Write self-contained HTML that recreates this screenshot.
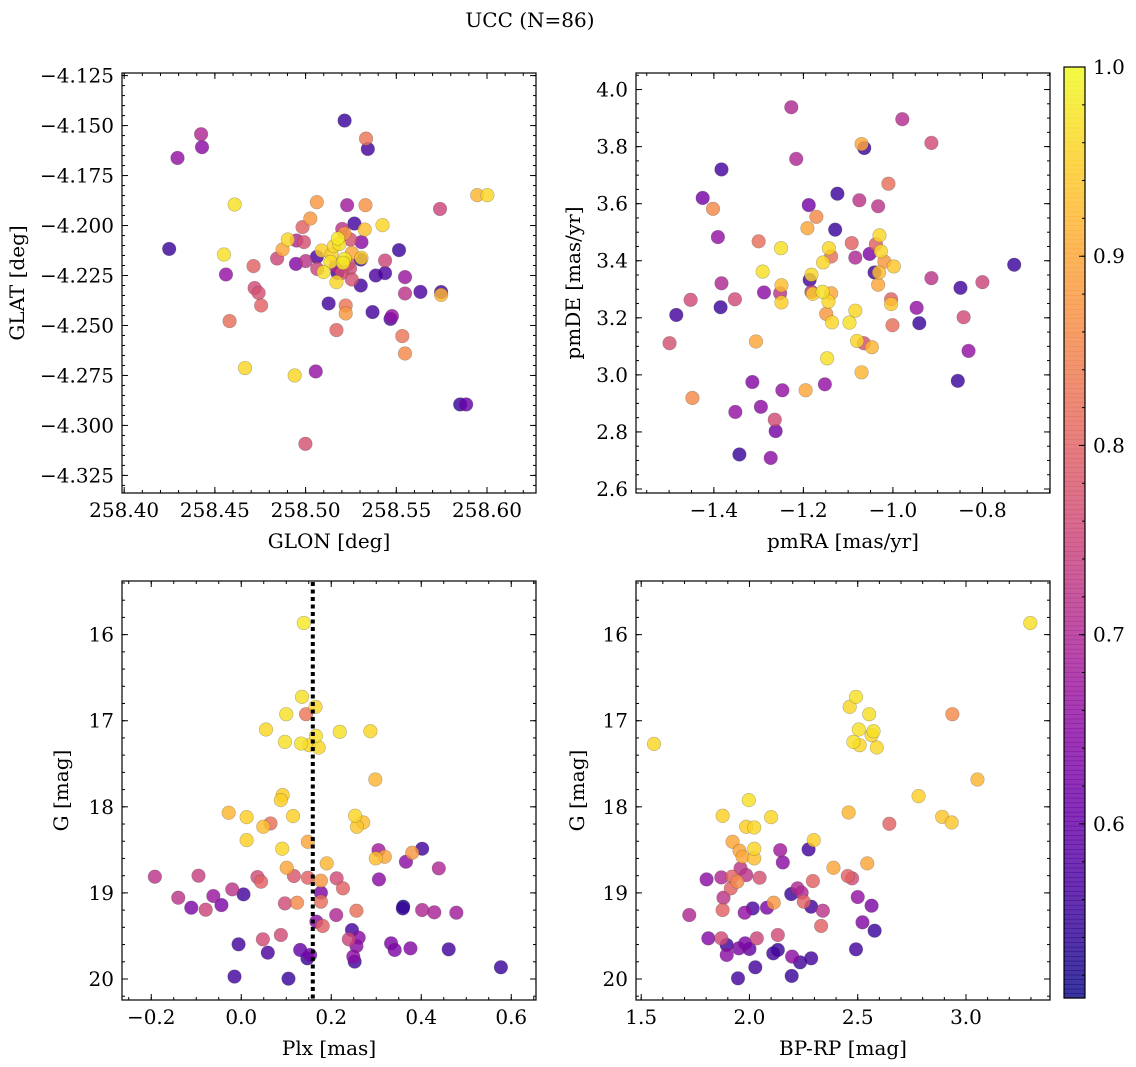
<!DOCTYPE html>
<html><head><meta charset="utf-8"><title>UCC (N=86)</title>
<style>
html,body{margin:0;padding:0;background:#fff;}
svg{display:block;font-family:"DejaVu Serif","Liberation Serif",serif;}
</style></head>
<body>
<svg id="fig" width="1136" height="1067" viewBox="0 0 1136 1067" xmlns="http://www.w3.org/2000/svg">
<text x="530" y="27" font-size="20" text-anchor="middle">UCC (N=86)</text>
</svg>
<script>
// ---- Panel 1: GLON / GLAT ----
const glon = [258.5215,258.5333,258.5343,258.4424,258.4429,258.4294,258.4609,258.5062,258.5229,258.5330,258.5741,258.5946,258.6002,258.5026,258.4983,258.5269,258.5424,258.5326,258.5202,258.5214,258.5247,258.5308,258.5178,258.4950,258.4991,258.4902,258.4873,258.4248,258.4550,258.4843,258.4947,258.5001,258.5062,258.5089,258.5143,258.5137,258.5064,258.5099,258.5176,258.5170,258.5215,258.5255,258.5245,258.5255,258.5304,258.5308,258.4713,258.4561,258.4719,258.4741,258.4755,258.4581,258.5127,258.5221,258.5221,258.5304,258.5387,258.5438,258.5438,258.5515,258.5548,258.5548,258.5633,258.5747,258.5747,258.5369,258.5468,258.5476,258.5170,258.5533,258.5548,258.4666,258.4940,258.5056,258.5852,258.5885,258.4999,258.5186,258.5156,258.5206,258.5233,258.5166,258.5200];
const glat = [-4.1475,-4.1565,-4.1617,-4.1543,-4.1608,-4.1662,-4.1895,-4.1883,-4.1898,-4.1898,-4.1917,-4.1848,-4.1848,-4.1965,-4.2008,-4.1990,-4.1998,-4.2020,-4.2017,-4.2040,-4.2070,-4.2083,-4.2065,-4.2075,-4.2083,-4.2070,-4.2120,-4.2117,-4.2145,-4.2165,-4.2192,-4.2178,-4.2157,-4.2125,-4.2145,-4.2182,-4.2217,-4.2233,-4.2237,-4.2283,-4.2167,-4.2137,-4.2215,-4.2270,-4.2170,-4.2162,-4.2203,-4.2245,-4.2313,-4.2337,-4.2400,-4.2478,-4.2390,-4.2400,-4.2440,-4.2300,-4.2250,-4.2238,-4.2175,-4.2123,-4.2258,-4.2340,-4.2332,-4.2333,-4.2347,-4.2433,-4.2467,-4.2453,-4.2523,-4.2553,-4.2640,-4.2713,-4.2750,-4.2730,-4.2895,-4.2895,-4.3092,-4.2092,-4.2103,-4.2187,-4.2190,-4.2203,-4.2237];
const prob1 = [0.55,0.83,0.56,0.70,0.65,0.66,0.97,0.88,0.68,0.87,0.75,0.92,0.96,0.88,0.80,0.56,0.96,0.93,0.72,0.88,0.77,0.65,0.98,0.70,0.77,0.96,0.90,0.55,0.97,0.75,0.64,0.72,0.57,0.95,0.95,0.97,0.75,0.97,0.56,0.96,0.98,0.90,0.76,0.77,0.55,0.95,0.80,0.66,0.76,0.77,0.80,0.82,0.56,0.83,0.88,0.56,0.57,0.57,0.75,0.55,0.67,0.72,0.57,0.56,0.92,0.56,0.57,0.66,0.80,0.83,0.86,0.96,0.96,0.66,0.55,0.60,0.77,0.97,0.96,0.98,0.77,0.70,0.76];
// ---- Panel 2: pmRA / pmDE ----
const pmra = [-1.227,-0.979,-0.914,-1.070,-1.064,-1.216,-1.383,-1.010,-1.124,-1.425,-1.402,-1.075,-1.033,-1.188,-1.171,-1.191,-1.129,-1.391,-1.300,-1.030,-1.250,-1.143,-1.092,-1.038,-1.027,-1.138,-1.084,-1.052,-1.156,-1.291,-1.019,-0.998,-1.041,-1.031,-1.033,-0.729,-1.182,-1.186,-1.383,-0.914,-0.800,-0.849,-1.249,-1.288,-1.252,-1.182,-1.179,-1.157,-1.138,-1.144,-1.249,-1.452,-1.353,-1.385,-1.484,-1.004,-1.004,-0.947,-1.149,-1.084,-1.136,-1.097,-1.001,-0.941,-0.842,-1.499,-1.306,-1.080,-1.065,-1.047,-0.831,-1.147,-1.070,-1.314,-0.855,-1.152,-1.247,-1.195,-1.448,-1.295,-1.352,-1.264,-1.262,-1.343,-1.273];
const pmde = [3.938,3.896,3.813,3.809,3.795,3.757,3.720,3.670,3.635,3.620,3.582,3.612,3.591,3.595,3.554,3.514,3.509,3.483,3.468,3.489,3.444,3.444,3.462,3.458,3.433,3.415,3.411,3.424,3.394,3.362,3.397,3.380,3.359,3.359,3.316,3.386,3.351,3.333,3.321,3.339,3.325,3.305,3.314,3.289,3.286,3.291,3.284,3.291,3.286,3.257,3.254,3.263,3.265,3.237,3.210,3.265,3.248,3.235,3.214,3.225,3.184,3.183,3.174,3.181,3.202,3.111,3.117,3.119,3.111,3.097,3.084,3.058,3.009,2.975,2.979,2.967,2.946,2.946,2.919,2.888,2.870,2.843,2.803,2.721,2.709];
const prob2 = [0.70,0.71,0.76,0.90,0.55,0.70,0.56,0.82,0.55,0.62,0.86,0.72,0.72,0.62,0.86,0.90,0.55,0.66,0.82,0.96,0.97,0.96,0.80,0.80,0.96,0.82,0.70,0.63,0.96,0.97,0.88,0.94,0.56,0.93,0.90,0.55,0.96,0.56,0.70,0.72,0.75,0.56,0.93,0.65,0.72,0.72,0.95,0.97,0.90,0.96,0.95,0.76,0.76,0.55,0.56,0.80,0.94,0.66,0.88,0.96,0.96,0.97,0.82,0.55,0.76,0.77,0.90,0.96,0.77,0.92,0.66,0.97,0.92,0.64,0.55,0.66,0.66,0.90,0.86,0.65,0.66,0.76,0.62,0.55,0.65];
// ---- Panel 3: Plx / G ----
const plx = [0.139,0.135,0.165,0.144,0.100,0.055,0.097,0.133,0.151,0.166,0.172,0.219,0.287,0.298,0.092,0.088,-0.028,0.012,0.065,0.049,0.115,0.253,0.271,0.257,0.012,0.091,0.148,0.305,0.299,0.319,0.402,0.380,0.366,0.439,0.190,0.101,-0.192,-0.095,0.036,0.044,0.117,0.148,0.177,0.212,0.226,0.306,0.177,-0.020,-0.062,0.005,-0.140,-0.111,-0.079,-0.044,0.097,0.124,0.177,0.211,0.256,0.359,0.360,0.402,0.429,0.478,0.167,0.181,0.246,0.239,0.261,0.048,0.088,-0.006,0.059,0.131,0.147,0.153,0.256,0.249,0.252,0.333,0.341,0.376,0.461,0.577,-0.015,0.105];
const gmag3 = [15.865,16.723,16.839,16.924,16.924,17.102,17.246,17.265,17.284,17.176,17.311,17.129,17.122,17.683,17.864,17.922,18.069,18.120,18.193,18.232,18.108,18.104,18.182,18.232,18.387,18.487,18.406,18.503,18.599,18.580,18.487,18.534,18.638,18.715,18.657,18.708,18.812,18.800,18.816,18.870,18.804,18.824,18.858,18.831,18.947,18.843,18.998,18.959,19.036,19.017,19.056,19.172,19.195,19.141,19.122,19.114,19.102,19.257,19.207,19.180,19.160,19.199,19.226,19.230,19.334,19.384,19.431,19.539,19.520,19.539,19.489,19.597,19.694,19.663,19.760,19.721,19.617,19.740,19.798,19.586,19.663,19.644,19.655,19.864,19.972,19.996];
const prob3 = [0.98,0.97,0.96,0.83,0.97,0.96,0.97,0.97,0.96,0.97,0.96,0.97,0.96,0.92,0.95,0.95,0.92,0.95,0.82,0.93,0.95,0.96,0.93,0.94,0.95,0.96,0.90,0.68,0.93,0.90,0.56,0.88,0.65,0.70,0.92,0.90,0.72,0.74,0.76,0.80,0.78,0.80,0.88,0.76,0.80,0.65,0.63,0.72,0.67,0.56,0.72,0.63,0.75,0.63,0.76,0.86,0.82,0.70,0.82,0.55,0.51,0.70,0.69,0.68,0.65,0.80,0.56,0.75,0.65,0.76,0.76,0.56,0.57,0.60,0.55,0.62,0.65,0.65,0.56,0.63,0.63,0.64,0.56,0.55,0.56,0.55];
const plxRef = [0.159];
// ---- Panel 4: BP-RP / G ----
const bprp = [3.297,1.559,2.492,2.463,2.553,2.937,2.505,2.573,2.564,2.480,2.509,2.588,3.053,2.781,1.997,1.876,2.100,2.458,2.890,2.934,2.646,1.985,2.022,1.922,2.297,2.022,2.022,1.954,1.968,2.142,2.273,2.154,2.388,2.544,1.959,1.985,1.802,1.870,2.047,1.920,1.944,1.914,2.293,2.454,2.474,2.222,2.193,2.241,1.880,2.500,2.564,2.112,2.251,2.285,2.015,2.081,1.876,1.722,1.978,2.339,2.522,2.578,2.331,2.131,1.810,1.870,2.034,1.895,1.951,1.980,2.000,1.895,2.110,2.131,2.197,2.234,2.285,2.492,2.027,1.947,2.195];
const gmag4 = [15.865,17.269,16.723,16.839,16.924,16.924,17.102,17.122,17.168,17.246,17.284,17.311,17.683,17.876,17.922,18.104,18.120,18.066,18.116,18.182,18.197,18.232,18.240,18.406,18.387,18.487,18.599,18.510,18.580,18.503,18.495,18.646,18.708,18.657,18.715,18.793,18.843,18.820,18.824,18.812,18.870,18.947,18.862,18.804,18.831,18.947,19.013,18.998,19.056,19.048,19.149,19.114,19.102,19.160,19.180,19.172,19.199,19.257,19.230,19.207,19.342,19.439,19.384,19.489,19.528,19.528,19.528,19.605,19.644,19.586,19.651,19.721,19.702,19.663,19.740,19.806,19.760,19.655,19.864,19.992,19.965];
const prob4 = [0.97,0.96,0.97,0.96,0.97,0.86,0.97,0.97,0.96,0.97,0.96,0.96,0.92,0.95,0.97,0.95,0.96,0.92,0.94,0.94,0.80,0.95,0.96,0.90,0.95,0.96,0.93,0.90,0.90,0.68,0.56,0.65,0.90,0.90,0.72,0.72,0.65,0.70,0.77,0.80,0.86,0.80,0.80,0.80,0.76,0.70,0.55,0.70,0.72,0.66,0.63,0.88,0.80,0.56,0.57,0.63,0.80,0.70,0.66,0.72,0.64,0.55,0.80,0.76,0.64,0.76,0.75,0.56,0.63,0.63,0.60,0.65,0.56,0.55,0.65,0.56,0.56,0.56,0.56,0.56,0.55];
// ---- Colorbar ----
const cbTicks = [0.6,0.7,0.8,0.9,1.0];
const cbRange = [0.508,1.0];

const NS = "http://www.w3.org/2000/svg";
const svg = document.getElementById('fig');
const FS = 20;
function mk(tag, attrs, parent){const e=document.createElementNS(NS,tag);for(const k in attrs)e.setAttribute(k,attrs[k]);(parent||svg).appendChild(e);return e;}

const plasma = [[13,8,135],[65,4,157],[106,0,168],[143,13,164],[177,42,144],[204,71,120],[225,100,98],[242,132,75],[252,166,54],[252,206,37],[240,249,33]];
function cmap(v){
  let t=(v-cbRange[0])/(cbRange[1]-cbRange[0]); t=Math.max(0,Math.min(1,t));
  const f=t*10, i=Math.min(9,Math.floor(f)), r=f-i, a=plasma[i], b=plasma[i+1];
  return 'rgb('+Math.round(a[0]+(b[0]-a[0])*r)+','+Math.round(a[1]+(b[1]-a[1])*r)+','+Math.round(a[2]+(b[2]-a[2])*r)+')';
}
function fmt(v,d){const s=Math.abs(v).toFixed(d);return (v<-1e-9?'\u2212':'')+s;}

function panel(cfg){
  const {name,L,T,R,B,x0,x1,y0,y1,xMaj,xMin,yMaj,yMin,xd,yd,xlab,ylab,ylabX,xs,ys,ps} = cfg;
  const g = mk('g',{});
  
  
  const sx = v => L+(v-x0)/(x1-x0)*(R-L);
  const sy = v => T+(v-y0)/(y1-y0)*(B-T);
  const eps=1e-9;
  const lo=Math.min(x0,x1),hi=Math.max(x0,x1);
  for(let v=Math.ceil(lo/xMin-eps)*xMin; v<=hi+eps; v+=xMin){const X=sx(v);mk('line',{x1:X,y1:B,x2:X,y2:B-3,stroke:'#000','stroke-width':1},g);mk('line',{x1:X,y1:T,x2:X,y2:T+3,stroke:'#000','stroke-width':1},g);}
  const ylo=Math.min(y0,y1),yhi=Math.max(y0,y1);
  for(let v=Math.ceil(ylo/yMin-eps)*yMin; v<=yhi+eps; v+=yMin){const Y=sy(v);mk('line',{x1:L,y1:Y,x2:L+3,y2:Y,stroke:'#000','stroke-width':1},g);mk('line',{x1:R,y1:Y,x2:R-3,y2:Y,stroke:'#000','stroke-width':1},g);}
  for(let v=Math.ceil(lo/xMaj-eps)*xMaj; v<=hi+eps; v+=xMaj){const X=sx(v);mk('line',{x1:X,y1:B,x2:X,y2:B-6,stroke:'#000','stroke-width':1},g);mk('line',{x1:X,y1:T,x2:X,y2:T+6,stroke:'#000','stroke-width':1},g);
    const t=mk('text',{x:X,y:B+24,'font-size':FS,'text-anchor':'middle'},g);t.textContent=fmt(v,xd);
    
    }
  for(let v=Math.ceil(ylo/yMaj-eps)*yMaj; v<=yhi+eps; v+=yMaj){const Y=sy(v);mk('line',{x1:L,y1:Y,x2:L+6,y2:Y,stroke:'#000','stroke-width':1},g);mk('line',{x1:R,y1:Y,x2:R-6,y2:Y,stroke:'#000','stroke-width':1},g);
    const t=mk('text',{x:L-8,y:Y+7,'font-size':FS,'text-anchor':'end'},g);t.textContent=fmt(v,yd);
    
    }
  const pg=mk('g',{},g);
  
  
  const order = ps.map((p,i)=>i).sort((a,b)=>ps[a]-ps[b]);
  for(const i of order){
    const c=mk('circle',{cx:sx(xs[i]),cy:sy(ys[i]),r:6.8,fill:cmap(ps[i]),'fill-opacity':0.82,stroke:'rgba(60,60,60,0.35)','stroke-width':0.6},pg);
    
    
  }
  if(cfg.vline!==undefined){
    const X=sx(cfg.vline);
    const l=mk('line',{x1:X,y1:T+1,x2:X,y2:B-1,stroke:'#000','stroke-width':4,'stroke-dasharray':'4 3.5'},g);
    
    
  }
  const box=mk('rect',{x:L,y:T,width:R-L,height:B-T,fill:'none',stroke:'#000','stroke-width':1.2},g);
  
  
  const xl=mk('text',{x:(L+R)/2,y:B+55,'font-size':FS,'text-anchor':'middle'},g);xl.textContent=xlab;
  
  
  const yc=(T+B)/2;
  const yl=mk('text',{x:ylabX,y:yc,'font-size':FS,'text-anchor':'middle',transform:'rotate(-90 '+ylabX+' '+yc+')'},g);yl.textContent=ylab;
  
  
}

panel({name:'panel-glon-glat',L:122,T:73,R:536,B:493,x0:258.3988,x1:258.627,y0:-4.1237,y1:-4.3338,xMaj:0.05,xMin:0.01,yMaj:0.025,yMin:0.005,xd:2,yd:3,xlab:'GLON [deg]',ylab:'GLAT [deg]',ylabX:24,xs:glon,ys:glat,ps:prob1});
panel({name:'panel-pmra-pmde',L:636,T:73,R:1050,B:493,x0:-1.574,x1:-0.649,y0:4.058,y1:2.586,xMaj:0.2,xMin:0.05,yMaj:0.2,yMin:0.05,xd:1,yd:1,xlab:'pmRA [mas/yr]',ylab:'pmDE [mas/yr]',ylabX:580,xs:pmra,ys:pmde,ps:prob2});
panel({name:'panel-plx-g',L:122,T:581,R:536,B:1000,x0:-0.265,x1:0.655,y0:15.377,y1:20.244,xMaj:0.2,xMin:0.05,yMaj:1,yMin:0.2,xd:1,yd:0,xlab:'Plx [mas]',ylab:'G [mag]',ylabX:68,xs:plx,ys:gmag3,ps:prob3,vline:plxRef[0]});
panel({name:'panel-bprp-g',L:636,T:581,R:1050,B:1000,x0:1.476,x1:3.388,y0:15.377,y1:20.244,xMaj:0.5,xMin:0.1,yMaj:1,yMin:0.2,xd:1,yd:0,xlab:'BP-RP [mag]',ylab:'G [mag]',ylabX:584,xs:bprp,ys:gmag4,ps:prob4});

(function(){
  const L=1064,R=1085,T=67,B=998;
  const g=mk('g',{});
  
  
  const n=200;
  for(let i=0;i<n;i++){
    const v=cbRange[0]+(cbRange[1]-cbRange[0])*(i+0.5)/n;
    const y=B-(i+1)*(B-T)/n;
    mk('rect',{x:L,y:y,width:R-L,height:(B-T)/n+0.6,fill:cmap(v),'fill-opacity':0.82},g);
  }
  const sy=v=>B-(v-cbRange[0])/(cbRange[1]-cbRange[0])*(B-T);
  for(let v=0.52; v<=1.0001; v+=0.02){const Y=sy(v);mk('line',{x1:R,y1:Y,x2:R-3,y2:Y,stroke:'#000','stroke-width':1},g);}
  for(const v of cbTicks){const Y=sy(v);mk('line',{x1:R,y1:Y,x2:R-6,y2:Y,stroke:'#000','stroke-width':1},g);
    const t=mk('text',{x:R+8,y:Y+7,'font-size':FS},g);t.textContent=v.toFixed(1);
    
    }
  mk('rect',{x:L,y:T,width:R-L,height:B-T,fill:'none',stroke:'#000','stroke-width':1.2},g);
})();
</script>
</body></html>
